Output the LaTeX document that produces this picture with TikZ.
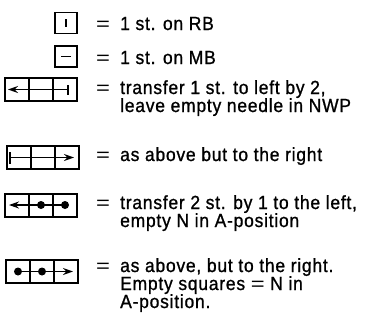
\documentclass[tikz,border=0pt]{standalone}
\usepackage{fontspec}
\setmainfont{Liberation Sans}[FakeStretch=0.92,LetterSpace=4,FakeBold=1]
\newfontfamily\eqfont{Liberation Sans}[FakeStretch=1.25]
\usetikzlibrary{arrows.meta}
\begin{document}
\begin{tikzpicture}[x=1pt,y=-1pt,
  cell/.style={draw,line width=1.2pt,minimum width=24pt,minimum height=23pt,inner sep=0pt,outer sep=0pt},
  single/.style={draw,line width=1.6pt,minimum width=22pt,minimum height=21pt,inner sep=0pt,outer sep=0pt},
  frame/.style={draw,line width=2pt},
  txt/.style={anchor=base west,inner sep=0pt,font=\fontsize{19}{18}\selectfont},
  eqs/.style={anchor=base west,inner sep=0pt,font=\eqfont\fontsize{19}{18}\selectfont},
  stitch/.style={line width=1.4pt},
  tipl/.style={{Stealth[length=10pt,width=7pt]}-},
  tipr/.style={-{Stealth[length=10pt,width=7pt]}},
  dot/.style={circle,fill,inner sep=0pt,minimum size=8pt}]
\useasboundingbox (0,0) rectangle (366,333);

% --- row 1: single box, stitch on RB
\node[single] (s1) at (66,23) {};
\draw[stitch] (66,19) -- (66,27);
\node[eqs] (e1) at (96,30) {=};
\node[txt] (t1) at (120,30) {1 st. on RB};

% --- row 2: single box, stitch on MB
\node[single] (s2) at (66,56.5) {};
\draw[stitch] (61,56.5) -- (71,56.5);
\node[eqs] (e2) at (96,64) {=};
\node[txt] (t2) at (120,64) {1 st. on MB};

% --- row 3
\node[cell] (a3) at (17,89.5) {};
\node[cell] (b3) at (41,89.5) {};
\node[cell] (c3) at (65,89.5) {};
\draw[frame] (a3.north west) rectangle (c3.south east);
\coordinate (p3) at (68,89.5);
\coordinate (q3) at (8,89.5);
\draw[stitch,tipl] (q3) -- (p3);
\draw[stitch] ([yshift=-5pt]p3) -- ([yshift=5pt]p3);
\node[eqs] (e3) at (96,94) {=};
\node[txt] (t3) at (120,94) {transfer 1 st. to left by 2,};
\node[txt] (u3) at (120,112) {leave empty needle in NWP};

% --- row 4
\node[cell] (a4) at (19,157.5) {};
\node[cell] (b4) at (43,157.5) {};
\node[cell] (c4) at (67,157.5) {};
\draw[frame] (a4.north west) rectangle (c4.south east);
\coordinate (p4) at (10,157.5);
\coordinate (q4) at (74,157.5);
\draw[stitch,tipr] (p4) -- (q4);
\draw[stitch] ([yshift=-6pt]p4) -- ([yshift=6pt]p4);
\node[eqs] (e4) at (96,161) {=};
\node[txt] (t4) at (120,161) {as above but to the right};

% --- row 5
\node[cell] (a5) at (17,205) {};
\node[cell] (b5) at (41,205) {};
\node[cell] (c5) at (65,205) {};
\draw[frame] (a5.north west) rectangle (c5.south east);
\node[dot] (d5a) at (41,205) {};
\node[dot] (d5b) at (65,205) {};
\coordinate (q5) at (9,205);
\draw[stitch,tipl] (q5) -- (d5b.center);
\node[eqs] (e5) at (96,209) {=};
\node[txt] (t5) at (120,209) {transfer 2 st. by 1 to the left,};
\node[txt] (u5) at (120,227) {empty N in A-position};

% --- row 6
\node[cell] (a6) at (18,271.5) {};
\node[cell] (b6) at (42,271.5) {};
\node[cell] (c6) at (66,271.5) {};
\draw[frame] (a6.north west) rectangle (c6.south east);
\node[dot] (d6a) at (18,271.5) {};
\node[dot] (d6b) at (42,271.5) {};
\coordinate (q6) at (73,271.5);
\draw[stitch,tipr] (d6a.center) -- (q6);
\node[eqs] (e6) at (96,272) {=};
\node[txt] (t6) at (120,272) {as above, but to the right.};
\node[txt] (u6) at (120,290) {Empty squares {\eqfont =} N in};
\node[txt] (v6) at (120,308) {A-position.};
\end{tikzpicture}
\end{document}
